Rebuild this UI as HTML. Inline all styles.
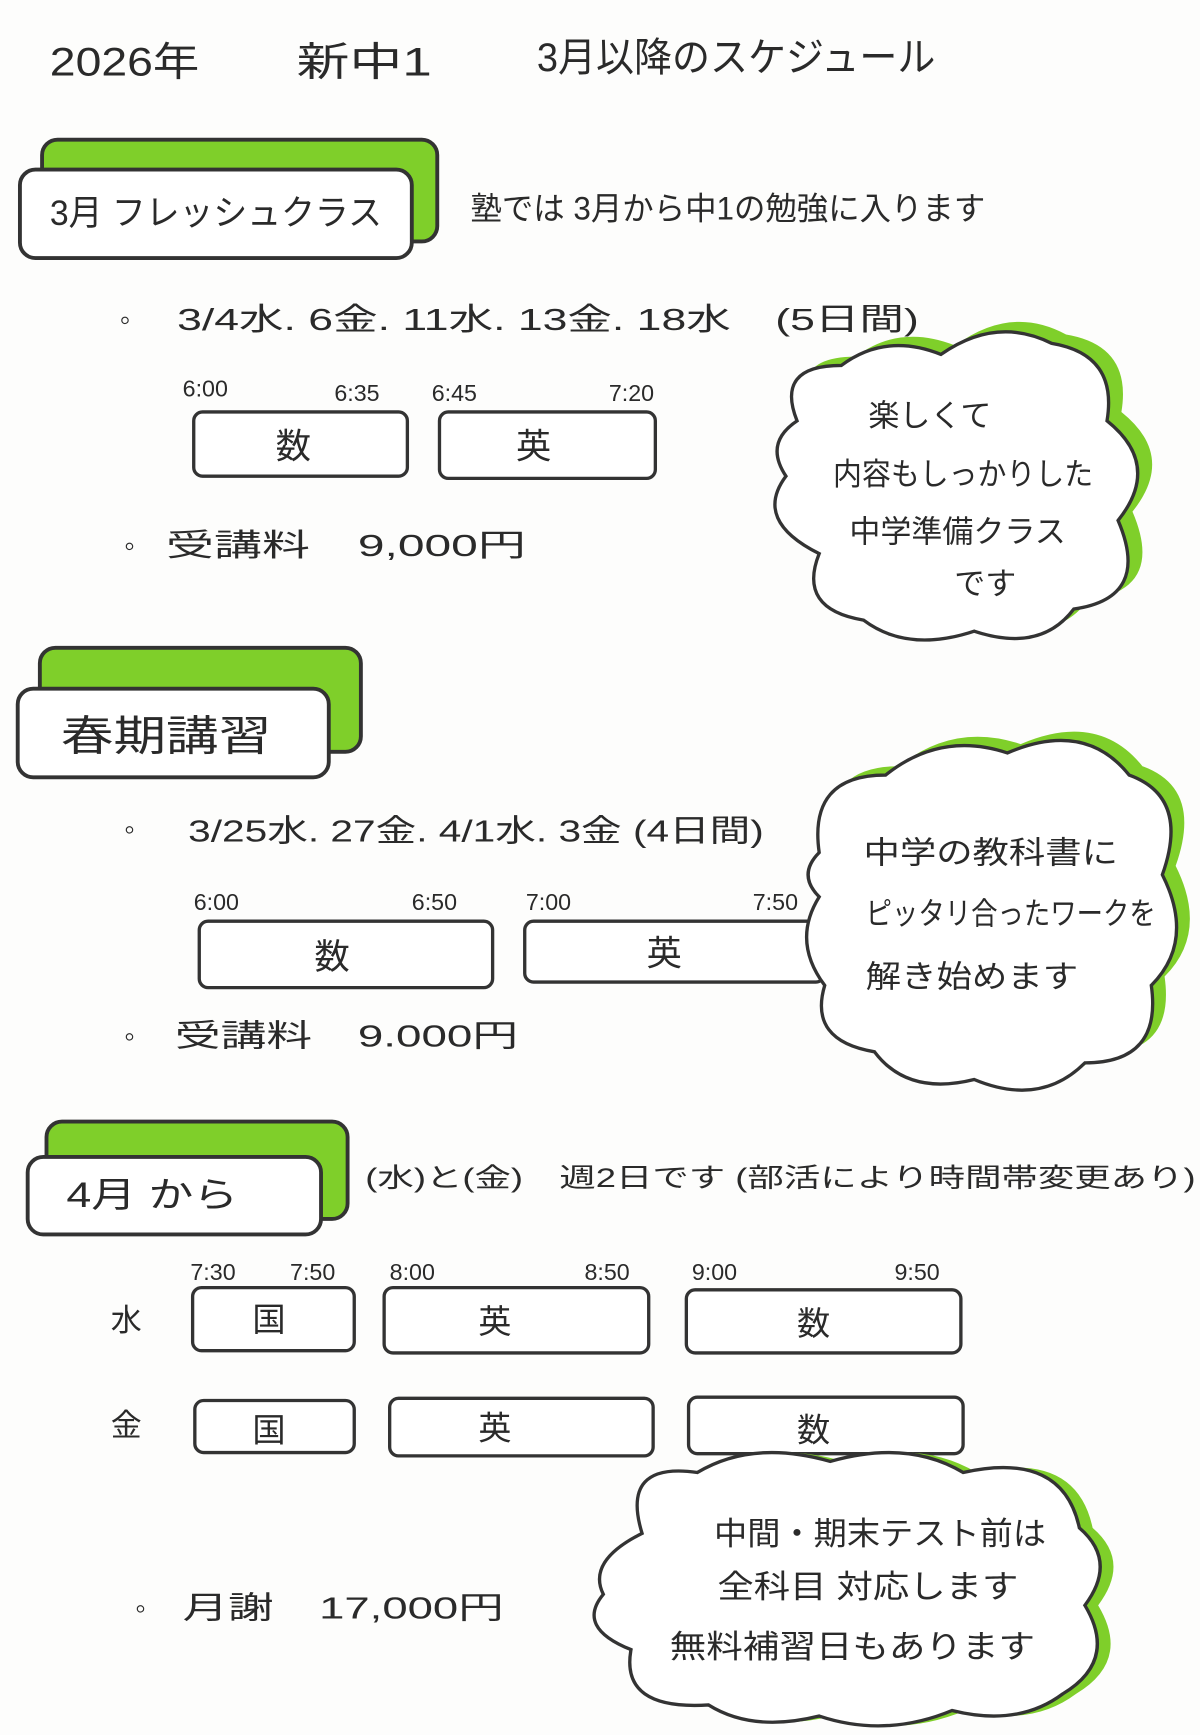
<!DOCTYPE html>
<html><head><meta charset="utf-8"><style>
html,body{margin:0;padding:0;background:#fdfdfc;}
svg{display:block}
text{font-family:"Liberation Sans","Noto Sans CJK JP",sans-serif;fill:#2a2a2a;}
</style></head><body>
<svg width="1200" height="1735" viewBox="0 0 1084 1567" xmlns="http://www.w3.org/2000/svg">
<rect width="1084" height="1567" fill="#fdfdfc"/>
<g font-size="36">
<text x="45" y="68" textLength="135" lengthAdjust="spacingAndGlyphs">2026年</text>
<text x="268" y="68" textLength="122" lengthAdjust="spacingAndGlyphs">新中1</text>
<text x="485" y="64" textLength="360" lengthAdjust="spacingAndGlyphs">3月以降のスケジュール</text>
</g>

<g stroke="#333" stroke-width="3.5" stroke-linejoin="round">
<rect x="38" y="126" width="357" height="92" rx="14" fill="#7fcf2a"/>
<rect x="18" y="153" width="354" height="80" rx="14" fill="#fff"/>
<rect x="36" y="585" width="290" height="94" rx="14" fill="#7fcf2a"/>
<rect x="16" y="622" width="281" height="80" rx="14" fill="#fff"/>
<rect x="42" y="1013" width="272" height="88" rx="14" fill="#7fcf2a"/>
<rect x="25" y="1045" width="265" height="70" rx="14" fill="#fff"/>
</g>
<g font-size="32">
<text x="45" y="203" textLength="300" lengthAdjust="spacingAndGlyphs">3月 フレッシュクラス</text>
<text x="55" y="678" font-size="38" textLength="190" lengthAdjust="spacingAndGlyphs">春期講習</text>
<text x="60" y="1090" textLength="155" lengthAdjust="spacingAndGlyphs">4月 から</text>
</g>
<text x="425" y="198" font-size="29" textLength="465" lengthAdjust="spacingAndGlyphs">塾では 3月から中1の勉強に入ります</text>

<g font-size="28">
<text x="108" y="298">◦</text>
<text x="160" y="298" textLength="670" lengthAdjust="spacingAndGlyphs">3/4水. 6金. 11水. 13金. 18水　(5日間)</text>
<text x="112" y="502">◦</text>
<text x="150" y="502" textLength="325" lengthAdjust="spacingAndGlyphs">受講料　9,000円</text>
</g>
<g font-size="21">
<text x="165" y="358">6:00</text><text x="302" y="362">6:35</text>
<text x="390" y="362">6:45</text><text x="550" y="362">7:20</text>
</g>
<g stroke="#333" stroke-width="3" fill="#fff">
<rect x="175" y="372" width="193" height="58" rx="8"/>
<rect x="397" y="372" width="195" height="60" rx="8"/>
</g>
<g font-size="32" text-anchor="middle">
<text x="265" y="414">数</text><text x="482" y="414">英</text>
</g>

<path d="M733,372 Q713,322 773,322 Q813,292 863,312 Q913,275 963,302 Q1023,312 1013,372 Q1063,412 1023,462 Q1053,532 983,542 Q953,582 893,562 Q833,582 793,552 Q733,542 753,492 Q693,462 723,422 Q703,392 733,372 Z" fill="#7fcf2a"/>
<path d="M720,380 Q700,330 760,330 Q800,300 850,320 Q900,285 950,310 Q1010,320 1000,380 Q1050,420 1010,470 Q1040,540 970,550 Q940,590 880,570 Q820,590 780,560 Q720,550 740,500 Q680,470 710,430 Q690,400 720,380 Z" fill="#fff" stroke="#333" stroke-width="3"/>
<g font-size="28" text-anchor="middle">
<text x="840" y="385">楽しくて</text>
<text x="870" y="438" textLength="235" lengthAdjust="spacingAndGlyphs">内容もしっかりした</text>
<text x="865" y="490">中学準備クラス</text>
<text x="890" y="537">です</text>
</g>

<g font-size="28">
<text x="112" y="758">◦</text>
<text x="170" y="760" textLength="520" lengthAdjust="spacingAndGlyphs">3/25水. 27金. 4/1水. 3金 (4日間)</text>
<text x="112" y="945">◦</text>
<text x="158" y="945" textLength="310" lengthAdjust="spacingAndGlyphs">受講料　9.000円</text>
</g>
<g font-size="21">
<text x="175" y="822">6:00</text><text x="372" y="822">6:50</text>
<text x="475" y="822">7:00</text><text x="680" y="822">7:50</text>
</g>
<g stroke="#333" stroke-width="3" fill="#fff">
<rect x="180" y="832" width="265" height="60" rx="8"/>
<rect x="474" y="832" width="271" height="55" rx="8"/>
</g>
<g font-size="32" text-anchor="middle">
<text x="300" y="875">数</text><text x="600" y="872">英</text>
</g>

<path d="M752,762 Q742,692 812,692 Q862,652 922,672 Q992,642 1032,692 Q1087,712 1062,782 Q1092,842 1052,882 Q1062,952 992,952 Q952,992 892,967 Q832,982 802,942 Q742,932 757,882 Q727,842 752,802 Q732,782 752,762 Z" fill="#7fcf2a"/>
<path d="M740,770 Q730,700 800,700 Q850,660 910,680 Q980,650 1020,700 Q1075,720 1050,790 Q1080,850 1040,890 Q1050,960 980,960 Q940,1000 880,975 Q820,990 790,950 Q730,940 745,890 Q715,850 740,810 Q720,790 740,770 Z" fill="#fff" stroke="#333" stroke-width="3"/>
<g font-size="28">
<text x="780" y="780" textLength="230" lengthAdjust="spacingAndGlyphs">中学の教科書に</text>
<text x="782" y="835" textLength="262" lengthAdjust="spacingAndGlyphs">ピッタリ合ったワークを</text>
<text x="782" y="892" textLength="192" lengthAdjust="spacingAndGlyphs">解き始めます</text>
</g>

<text x="330" y="1072" font-size="24" textLength="750" lengthAdjust="spacingAndGlyphs">(水)と(金)　週2日です (部活により時間帯変更あり)</text>
<g font-size="21">
<text x="172" y="1156">7:30</text><text x="262" y="1156">7:50</text>
<text x="352" y="1156">8:00</text><text x="528" y="1156">8:50</text>
<text x="625" y="1156">9:00</text><text x="808" y="1156">9:50</text>
</g>
<g font-size="28">
<text x="100" y="1202">水</text>
<text x="100" y="1297">金</text>
</g>
<g stroke="#333" stroke-width="3" fill="#fff">
<rect x="174" y="1163" width="146" height="57" rx="8"/>
<rect x="347" y="1163" width="239" height="59" rx="8"/>
<rect x="620" y="1165" width="248" height="57" rx="8"/>
<rect x="176" y="1265" width="144" height="47" rx="8"/>
<rect x="352" y="1263" width="238" height="52" rx="8"/>
<rect x="622" y="1262" width="248" height="51" rx="8"/>
</g>
<g font-size="30" text-anchor="middle">
<text x="243" y="1202">国</text><text x="447" y="1204">英</text><text x="735" y="1206">数</text>
<text x="243" y="1302">国</text><text x="447" y="1300">英</text><text x="735" y="1302">数</text>
</g>
<g font-size="28">
<text x="122" y="1462">◦</text>
<text x="165" y="1462" textLength="290" lengthAdjust="spacingAndGlyphs">月謝　17,000円</text>
</g>

<path d="M592,1385 Q572,1320 642,1330 Q692,1300 762,1320 Q832,1300 882,1330 Q972,1310 987,1380 Q1022,1410 992,1450 Q1022,1500 972,1530 Q932,1560 872,1545 Q812,1570 752,1550 Q692,1565 652,1540 Q572,1545 582,1490 Q532,1470 557,1440 Q542,1410 592,1385 Z" fill="#7fcf2a"/>
<path d="M580,1385 Q560,1320 630,1330 Q680,1300 750,1320 Q820,1300 870,1330 Q960,1310 975,1380 Q1010,1410 980,1450 Q1010,1500 960,1530 Q920,1560 860,1545 Q800,1570 740,1550 Q680,1565 640,1540 Q560,1545 570,1490 Q520,1470 545,1440 Q530,1410 580,1385 Z" fill="#fff" stroke="#333" stroke-width="3"/>
<g font-size="29">
<text x="645" y="1395" textLength="300" lengthAdjust="spacingAndGlyphs">中間・期末テスト前は</text>
<text x="648" y="1443" textLength="272" lengthAdjust="spacingAndGlyphs">全科目 対応します</text>
<text x="605" y="1497" textLength="330" lengthAdjust="spacingAndGlyphs">無料補習日もあります</text>
</g>
</svg>
</body></html>
